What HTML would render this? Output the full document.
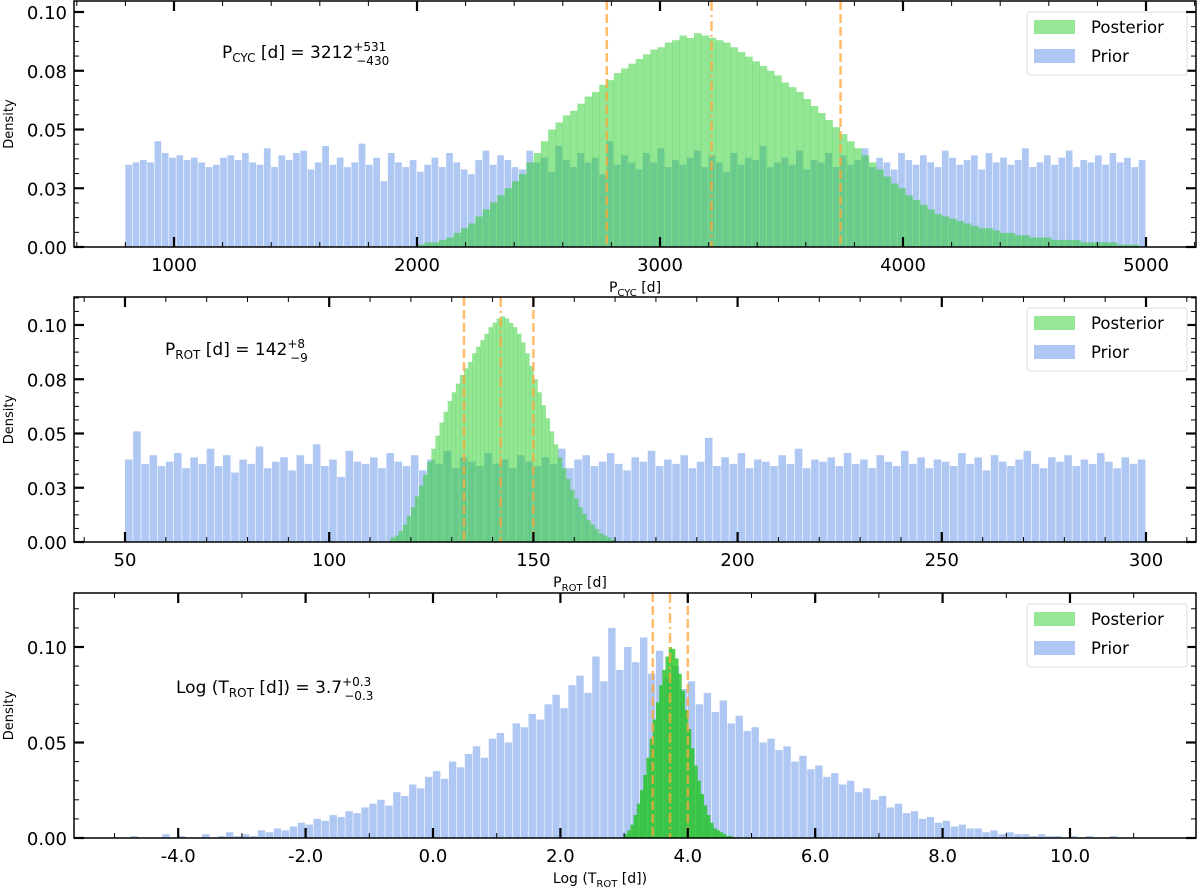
<!DOCTYPE html>
<html><head><meta charset="utf-8"><style>
body{margin:0;background:#fff;}
svg{display:block;font-family:"DejaVu Sans","Liberation Sans",sans-serif;}
</style></head><body>
<svg id="fig" width="1200" height="888" viewBox="0 0 1200 888"></svg>
<script>
// ---------- data ----------
const p1PriorStart = 800, p1PriorWidth = 30;
const p1Prior = [.035,.036,.037,.036,.045,.040,.038,.039,.037,.038,
.036,.034,.035,.038,.039,.037,.040,.036,.035,.042,
.034,.039,.037,.040,.041,.033,.036,.043,.035,.038,
.034,.036,.044,.035,.038,.028,.040,.036,.034,.037,
.032,.035,.038,.034,.040,.036,.033,.031,.037,.041,
.035,.039,.037,.034,.033,.041,.036,.038,.032,.043,
.037,.034,.040,.036,.038,.031,.045,.035,.039,.036,
.033,.040,.036,.042,.034,.037,.035,.038,.041,.034,
.039,.036,.032,.040,.035,.038,.037,.043,.034,.036,
.038,.035,.041,.033,.037,.036,.040,.034,.039,.035,
.037,.042,.034,.038,.036,.033,.040,.037,.035,.039,
.036,.034,.041,.038,.035,.037,.039,.033,.040,.036,
.038,.035,.037,.042,.034,.036,.039,.035,.038,.041,
.034,.037,.036,.039,.035,.040,.036,.038,.034,.037];
const p1PostStart = 2000, p1PostWidth = 30;
const p1Post = [.001,.002,.002,.003,.004,.006,.008,.010,.013,.016,
.019,.022,.025,.028,.031,.036,.040,.045,.050,.053,
.056,.058,.061,.064,.066,.069,.071,.074,.076,.078,
.080,.082,.084,.085,.087,.088,.090,.089,.091,.090,
.089,.088,.087,.085,.083,.081,.079,.077,.075,.073,
.070,.068,.066,.063,.060,.057,.054,.051,.048,.045,
.042,.039,.036,.033,.030,.027,.025,.022,.020,.018,
.016,.014,.013,.012,.011,.010,.009,.008,.008,.007,
.006,.006,.005,.005,.004,.004,.004,.003,.003,.003,
.003,.002,.002,.002,.002,.002,.001,.001,.001];
const p1Lines = [2781, 3212, 3743];
const p1XTicks = [1000, 2000, 3000, 4000, 5000];
const p1XTickLabels = ["1000","2000","3000","4000","5000"];

const p2PriorStart = 50, p2PriorWidth = 2;
const p2Prior = [.038,.051,.036,.040,.035,.037,.041,.034,.039,.036,
.043,.035,.040,.032,.038,.036,.044,.034,.037,.039,
.033,.040,.036,.045,.035,.038,.030,.042,.037,.036,
.039,.034,.041,.037,.035,.040,.033,.038,.036,.042,
.034,.039,.037,.035,.041,.036,.038,.034,.040,.037,
.035,.039,.036,.043,.034,.038,.040,.035,.037,.041,
.036,.033,.039,.037,.042,.035,.038,.036,.040,.034,
.037,.048,.035,.039,.036,.041,.034,.038,.037,.035,
.040,.036,.043,.034,.038,.037,.039,.035,.041,.036,
.038,.034,.040,.037,.035,.042,.036,.039,.034,.038,
.037,.035,.041,.036,.039,.033,.040,.037,.035,.038,
.042,.036,.034,.039,.037,.040,.035,.038,.036,.041,
.037,.034,.039,.036,.038];
const p2PostStart = 115, p2PostWidth = 1;
const p2Post = [.002,.003,.005,.008,.012,.016,.021,.026,.031,.037,
.043,.049,.055,.060,.065,.069,.073,.077,.080,.083,
.087,.090,.093,.096,.099,.101,.103,.104,.103,.101,
.099,.096,.092,.087,.081,.075,.069,.063,.057,.051,
.045,.039,.034,.029,.024,.020,.016,.013,.010,.008,
.006,.004,.003,.002,.001];
const p2Lines = [133, 142, 150];
const p2XTicks = [50, 100, 150, 200, 250, 300];
const p2XTickLabels = ["50","100","150","200","250","300"];

const p3PriorStart = -5, p3PriorWidth = 0.125;
const p3Prior = [.000,.000,.001,.000,.000,.000,.002,.000,.001,.000,.000,.002,.000,.001,.003,.001,
.002,.001,.004,.003,.005,.004,.006,.008,.007,.010,.009,.012,.011,.014,.013,.016,
.018,.020,.017,.024,.022,.028,.026,.032,.035,.031,.040,.037,.044,.048,.042,.052,
.055,.050,.060,.058,.065,.062,.070,.075,.068,.080,.085,.076,.095,.082,.110,.088,
.100,.092,.105,.086,.098,.084,.090,.078,.082,.070,.076,.066,.072,.060,.064,.056,
.058,.050,.052,.046,.048,.040,.043,.036,.038,.032,.034,.028,.030,.024,.026,.020,
.022,.016,.018,.013,.014,.010,.011,.008,.009,.006,.007,.005,.005,.003,.004,.002,
.003,.002,.002,.001,.002,.001,.001,.000,.001,.000,.001,.000,.000,.001,.000,.000];
const p3PostStart = 3.0, p3PostWidth = 0.05;
const p3Post = [.002,.004,.007,.012,.018,.025,.033,.042,.052,.062,
.071,.080,.088,.095,.100,.099,.094,.086,.077,.067,
.057,.047,.038,.030,.023,.017,.012,.008,.005,.004,
.003,.002,.001,.001];
const p3Lines = [3.45, 3.72, 4.0];
const p3XTicks = [-4, -2, 0, 2, 4, 6, 8, 10];
const p3XTickLabels = ["-4.0","-2.0","0.0","2.0","4.0","6.0","8.0","10.0"];

const yTicksA = [0, 0.025, 0.05, 0.075, 0.10];
const yTickLabelsA = ["0.00","0.03","0.05","0.08","0.10"];
const yTicksC = [0, 0.05, 0.10];
const yTickLabelsC = ["0.00","0.05","0.10"];

// ---------- drawing ----------
const NS = "http://www.w3.org/2000/svg";
const svg = document.getElementById('fig');
function mk(tag, attrs, parent){
  const e = document.createElementNS(NS, tag);
  for (const k in attrs) e.setAttribute(k, attrs[k]);
  (parent||svg).appendChild(e);
  return e;
}
const L = 74, R = 1196;

function panel(cfg){
  const g = mk('g', {});
  
  
  const xs = v => cfg.x0px + (v - cfg.x0v) * cfg.xk;
  const ys = v => cfg.bottom - v * cfg.yk;
  const clip = mk('clipPath', {id: cfg.name + '-clip'}, g);
  mk('rect', {x: L, y: cfg.top, width: R - L, height: cfg.bottom - cfg.top}, clip);
  const plot = mk('g', {'clip-path': 'url(#' + cfg.name + '-clip)'}, g);

  const prior = mk('g', {fill: '#aec7f3'}, plot);
  
  
  cfg.prior.forEach((v, i) => {
    const a = xs(cfg.priorStart + i * cfg.priorW), b = xs(cfg.priorStart + (i + 1) * cfg.priorW);
    const r = mk('rect', {x: a, y: ys(v), width: Math.max(b - a - 0.6, 0.5), height: Math.max(cfg.bottom - ys(v), 0)}, prior);
    
    
  });
  const post = mk('g', {fill: cfg.postColor}, plot);
  
  
  cfg.post.forEach((v, i) => {
    const a = xs(cfg.postStart + i * cfg.postW), b = xs(cfg.postStart + (i + 1) * cfg.postW);
    const r = mk('rect', {x: a, y: ys(v), width: b - a + 0.3, height: Math.max(cfg.bottom - ys(v), 0)}, post);
    
    
  });
  cfg.lines.forEach((v, i) => {
    const ln = mk('line', {x1: xs(v), x2: xs(v), y1: cfg.top, y2: cfg.bottom, stroke: '#ffa53a', 'stroke-opacity': 0.75,
      'stroke-width': 2.5, 'stroke-dasharray': i === 1 ? '10,4,2,4' : '9,4'}, plot);
    
    
  });
  const fr = mk('rect', {x: L, y: cfg.top, width: R - L, height: cfg.bottom - cfg.top, fill: 'none', stroke: '#000', 'stroke-width': 1.5}, g);
  
  
  for (let v = cfg.minorStart; xs(v) <= R; v += cfg.xMinor) {
    const px = xs(v); if (px < L) continue;
    mk('line', {x1: px, x2: px, y1: cfg.bottom, y2: cfg.bottom - 5, stroke: '#000', 'stroke-width': 1}, g);
    mk('line', {x1: px, x2: px, y1: cfg.top, y2: cfg.top + 5, stroke: '#000', 'stroke-width': 1}, g);
  }
  cfg.xTicks.forEach((v, i) => {
    const px = xs(v);
    mk('line', {x1: px, x2: px, y1: cfg.bottom, y2: cfg.bottom - 10, stroke: '#000', 'stroke-width': 2.2}, g);
    mk('line', {x1: px, x2: px, y1: cfg.top, y2: cfg.top + 10, stroke: '#000', 'stroke-width': 2.2}, g);
    const t = mk('text', {x: px, y: cfg.bottom + 24, 'font-size': 18, 'text-anchor': 'middle'}, g);
    t.textContent = cfg.xLabels[i];
    
    
  });
  for (let v = 0; ys(v) >= cfg.top - 0.5; v += cfg.yMinor) {
    const py = ys(v);
    mk('line', {x1: L, x2: L + 5, y1: py, y2: py, stroke: '#000', 'stroke-width': 1}, g);
    mk('line', {x1: R, x2: R - 5, y1: py, y2: py, stroke: '#000', 'stroke-width': 1}, g);
  }
  cfg.yTicks.forEach((v, i) => {
    const py = ys(v);
    mk('line', {x1: L, x2: L + 10, y1: py, y2: py, stroke: '#000', 'stroke-width': 2.2}, g);
    mk('line', {x1: R, x2: R - 10, y1: py, y2: py, stroke: '#000', 'stroke-width': 2.2}, g);
    const t = mk('text', {x: 67, y: py + 7, 'font-size': 18, 'text-anchor': 'end'}, g);
    t.textContent = cfg.yLabels[i];
    
    
  });
  const yt = mk('text', {x: 13, y: (cfg.top + cfg.bottom) / 2, 'font-size': 13, 'text-anchor': 'middle',
    transform: 'rotate(-90 13 ' + (cfg.top + cfg.bottom) / 2 + ')'}, g);
  yt.textContent = 'Density';
  
  
  const xt = mk('text', {x: cfg.xTitleX, y: cfg.bottom + 45, 'font-size': 14, 'text-anchor': 'middle'}, g);
  xt.innerHTML = cfg.xTitle;
  
  
  const an = mk('text', {x: cfg.annX, y: cfg.top + cfg.annDy, 'font-size': 17}, g);
  an.innerHTML = cfg.ann;
  
  
  const lg = mk('g', {transform: 'translate(0,' + (cfg.top - 1) + ')'}, g);
  
  
  mk('rect', {x: 1027, y: 12, width: 160, height: 63, rx: 3, fill: '#fff', 'fill-opacity': 0.85, stroke: '#ddd'}, lg);
  mk('rect', {x: 1034, y: 20, width: 41, height: 14, fill: '#95e695'}, lg);
  mk('rect', {x: 1034, y: 49, width: 41, height: 14, fill: '#aec7f3'}, lg);
  const l1 = mk('text', {x: 1091, y: 33, 'font-size': 16.5}, lg); l1.textContent = 'Posterior';
  
  
  const l2 = mk('text', {x: 1091, y: 62, 'font-size': 16.5}, lg); l2.textContent = 'Prior';
  
  
}

panel({name: 'panel-pcyc', top: 1, bottom: 247, yk: 2350, x0v: 1000, x0px: 174, xk: 0.243,
  prior: p1Prior, priorStart: p1PriorStart, priorW: p1PriorWidth,
  post: p1Post, postStart: p1PostStart, postW: p1PostWidth, postColor: 'rgba(40,205,40,0.5)',
  lines: p1Lines, xTicks: p1XTicks, xLabels: p1XTickLabels, minorStart: 600, xMinor: 200,
  yTicks: yTicksA, yLabels: yTickLabelsA, yMinor: 0.00625,
  xTitle: 'P<tspan font-size="10" dy="4">CYC</tspan><tspan dy="-4"> [d]</tspan>', xTitleX: 635,
  annX: 222, annDy: 57,
  ann: 'P<tspan font-size="12" dy="4">CYC</tspan><tspan dy="-4"> [d] = 3212</tspan><tspan font-size="12" dy="-7">+531</tspan><tspan font-size="12" dx="-30" dy="14">−430</tspan>'});

panel({name: 'panel-prot', top: 297, bottom: 542, yk: 2170, x0v: 50, x0px: 125, xk: 4.084,
  prior: p2Prior, priorStart: p2PriorStart, priorW: p2PriorWidth,
  post: p2Post, postStart: p2PostStart, postW: p2PostWidth, postColor: 'rgba(40,205,40,0.5)',
  lines: p2Lines, xTicks: p2XTicks, xLabels: p2XTickLabels, minorStart: 40, xMinor: 10,
  yTicks: yTicksA, yLabels: yTickLabelsA, yMinor: 0.00625,
  xTitle: 'P<tspan font-size="10" dy="4">ROT</tspan><tspan dy="-4"> [d]</tspan>', xTitleX: 580,
  annX: 165, annDy: 58,
  ann: 'P<tspan font-size="12" dy="4">ROT</tspan><tspan dy="-4"> [d] = 142</tspan><tspan font-size="12" dy="-7">+8</tspan><tspan font-size="12" dx="-15" dy="14">−9</tspan>'});

panel({name: 'panel-trot', top: 593, bottom: 838, yk: 1910, x0v: 0, x0px: 433, xk: 63.7,
  prior: p3Prior, priorStart: p3PriorStart, priorW: p3PriorWidth,
  post: p3Post, postStart: p3PostStart, postW: p3PostWidth, postColor: 'rgba(30,195,30,0.78)',
  lines: p3Lines, xTicks: p3XTicks, xLabels: p3XTickLabels, minorStart: -7, xMinor: 1,
  yTicks: yTicksC, yLabels: yTickLabelsC, yMinor: 0.01,
  xTitle: 'Log (T<tspan font-size="10" dy="4">ROT</tspan><tspan dy="-4"> [d])</tspan>', xTitleX: 600,
  annX: 176, annDy: 100,
  ann: 'Log (T<tspan font-size="12" dy="4">ROT</tspan><tspan dy="-4"> [d]) = 3.7</tspan><tspan font-size="12" dy="-7">+0.3</tspan><tspan font-size="12" dx="-27" dy="14">−0.3</tspan>'});
</script>
</body></html>
